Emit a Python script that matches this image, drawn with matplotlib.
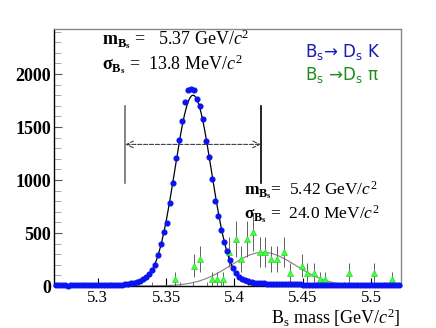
import numpy as np
import matplotlib
matplotlib.use("Agg")
import matplotlib.pyplot as plt
from matplotlib.ticker import MultipleLocator

plt.rcParams['mathtext.fontset'] = 'custom'
plt.rcParams['mathtext.rm'] = 'Liberation Serif'
plt.rcParams['mathtext.it'] = 'Liberation Serif:italic'
plt.rcParams['mathtext.bf'] = 'Liberation Serif:bold'
plt.rcParams['mathtext.sf'] = 'DejaVu Sans'
plt.rcParams['mathtext.default'] = 'regular'

# ---- data ----
# Bs -> Ds K (blue points), bin centers start / width
dsk_first_bin = 5.2695
dsk_bin_width = 0.0022
dsk_counts = [6, 5, 6, 5, 4, 6, 5, 5, 6, 5, 7, 5, 6, 5, 6, 7, 5, 6, 8, 7,
              7, 9, 12, 15, 20, 25, 32, 40, 52, 65, 85, 110, 150, 195, 290, 396,
              512, 595, 786, 970, 1210, 1375, 1556, 1733, 1850, 1862, 1852, 1762,
              1700, 1575, 1370, 1220, 1012, 802, 660, 528, 415, 330, 245, 170,
              120, 88, 70, 56, 45, 36, 30, 27, 25, 24, 22, 21, 20, 20, 19, 18,
              18, 17, 16, 16, 15, 15, 14, 13, 13, 12, 12, 11, 11, 10, 10, 10,
              9, 9, 9, 9, 8, 8, 8, 8, 8, 7, 7, 7, 7, 7, 6, 6, 6, 6, 6, 6, 5, 5, 5]

# Bs -> Ds pi (green triangles, scaled)
dspi_mass = [5.3567, 5.3701, 5.3747, 5.3834, 5.3874, 5.3918, 5.3961, 5.4010,
             5.4051, 5.4095, 5.4137, 5.4185, 5.4226, 5.4270, 5.4314, 5.4361,
             5.4404, 5.4494, 5.4533, 5.4582, 5.4623, 5.4664, 5.4842, 5.5018, 5.5151]
dspi_counts = [64, 191, 255, 64, 64, 64, 318, 446, 255, 446, 510, 318, 318,
               255, 255, 318, 127, 191, 127, 127, 64, 64, 127, 127, 64]
dspi_err = [64, 110, 127, 64, 64, 64, 142, 169, 127, 169, 180, 142, 142,
            127, 127, 142, 90, 110, 90, 90, 64, 64, 90, 90, 64]

# fit parameters
fit1_mean, fit1_sigma, fit1_amp = 5.3697, 0.0134, 1800
fit2_mean, fit2_sigma, fit2_amp = 5.421, 0.024, 318

# resolution window markers
win_left, win_right = 5.3202, 5.4193
win_low, win_high = 970, 1700
arrow_y = 1336

xticks = [5.3, 5.35, 5.4, 5.45, 5.5]
xticklabels = ['5.3', '5.35', '5.4', '5.45', '5.5']
yticks = [0, 500, 1000, 1500, 2000]
yticklabels = ['0', '500', '1000', '1500', '2000']

# ---- figure ----
fig = plt.figure(figsize=(4.36, 3.28), dpi=100)
ax = fig.add_axes([0.124, 0.128, 0.796, 0.7836])
ax.set_xlim(5.268, 5.522)
ax.set_ylim(0, 2425)

dsk_mass = dsk_first_bin + dsk_bin_width * np.arange(len(dsk_counts))

xx = np.linspace(5.268, 5.522, 800)
ax.plot(xx, fit1_amp * np.exp(-0.5 * ((xx - fit1_mean) / fit1_sigma) ** 2),
        color='black', lw=0.9, zorder=3)
ax.plot(xx, fit2_amp * np.exp(-0.5 * ((xx - fit2_mean) / fit2_sigma) ** 2),
        color='#808080', lw=0.8, zorder=2)

ax.errorbar(dspi_mass, dspi_counts, yerr=dspi_err, fmt='none',
            ecolor='#606060', elinewidth=0.7, zorder=2)
ax.plot(dspi_mass, dspi_counts, linestyle='none', marker='^', ms=4.5,
        color='#44ff44', mec='#22dd22', mew=0.5, zorder=4)

ax.plot(dsk_mass, dsk_counts, linestyle='none', marker='o', ms=3.4,
        color='#0a14f0', mec='#0a14f0', zorder=5, clip_on=False)

# window lines and arrow
ax.plot([win_left, win_left], [win_low, win_high], color='#707070', lw=1.2)
ax.plot([win_right, win_right], [win_low, win_high], color='black', lw=1.2)
ax.annotate('', xy=(win_left, arrow_y), xytext=(win_right, arrow_y),
            arrowprops=dict(arrowstyle='<->', linestyle='--', color='#404040',
                            lw=0.8, shrinkA=0, shrinkB=0, mutation_scale=12))

# axes styling
for s in ['left', 'bottom']:
    ax.spines[s].set_color('black')
    ax.spines[s].set_linewidth(1.0)
for s in ['top', 'right']:
    ax.spines[s].set_color('#888888')
    ax.spines[s].set_linewidth(1.0)

ax.set_xticks(xticks)
ax.set_xticklabels(xticklabels, fontfamily='Liberation Serif', fontsize=12)
ax.xaxis.set_minor_locator(MultipleLocator(0.01))
ax.set_yticks(yticks)
ax.set_yticklabels(yticklabels, fontfamily='Liberation Serif', fontsize=13,
                   fontweight='bold')
ax.yaxis.set_minor_locator(MultipleLocator(100))
ax.tick_params(which='both', direction='in', top=False, right=False)
ax.tick_params(axis='x', which='major', length=6, pad=3, color='black')
ax.tick_params(axis='x', which='minor', length=3, color='#555555')
ax.tick_params(axis='y', which='major', length=6, pad=2, color='#555555')
ax.tick_params(axis='y', which='minor', length=5, color='#999999')

# annotations
serif = dict(fontfamily='Liberation Serif', fontsize=13, color='black',
             va='center', ha='left')
fig.text(0.234, 0.88, r'$\mathbf{m_{B_s}}$ =   5.37 GeV/$\mathit{c}^2$', **serif)
fig.text(0.234, 0.806, r'$\mathbf{\sigma_{B_s}}$ =  13.8 MeV/$\mathit{c}^2$', **serif)
serif2 = dict(serif, fontsize=12.5)
fig.text(0.56, 0.42, r'$\mathbf{m_{B_s}}$=  5.42 GeV/$\mathit{c}^2$', **serif2)
fig.text(0.56, 0.348, r'$\mathbf{\sigma_{B_s}}$ =  24.0 MeV/$\mathit{c}^2$', **serif2)

sans = dict(fontfamily='DejaVu Sans', fontsize=12, va='center', ha='left')
fig.text(0.70, 0.84, r'B$_s$→ D$_s$ K', color='#1a1ab4', **sans)
fig.text(0.70, 0.77, r'B$_s$ →D$_s$ π', color='#1e8c1e', **sans)

fig.text(0.918, 0.03, r'B$_s$ mass [GeV/$\mathit{c}^2$]', fontfamily='Liberation Serif',
         fontsize=13, ha='right', va='center')

fig.savefig('out.png', dpi=100)
